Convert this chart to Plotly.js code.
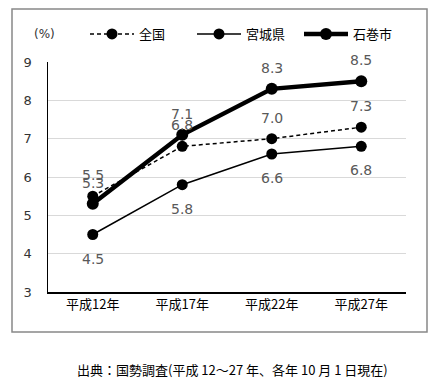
<!DOCTYPE html>
<html><head><meta charset="utf-8">
<script src="https://cdn.plot.ly/plotly-3.0.1.min.js"></script>
<style>body{margin:0;background:#fff}#c{width:434px;height:384px}</style>
</head><body><div id="c"></div>
<script>
const categories = ['平成12年','平成17年','平成22年','平成27年'];
const zenkoku = [5.5, 6.8, 7.0, 7.3];
const miyagi = [4.5, 5.8, 6.6, 6.8];
const ishinomaki = [5.3, 7.1, 8.3, 8.5];
const yTicks = [3,4,5,6,7,8,9];

const F = 'Verdana, "DejaVu Sans", "Noto Sans CJK JP", sans-serif';
const J = '"Noto Sans CJK JP", sans-serif';
const traces = [
  {name:'全国', x:categories, y:zenkoku, mode:'lines+markers',
   line:{color:'#000', width:1.5, dash:'4px,3px'}, marker:{color:'#000', size:11}},
  {name:'宮城県', x:categories, y:miyagi, mode:'lines+markers',
   line:{color:'#000', width:1.5}, marker:{color:'#000', size:11}},
  {name:'石巻市', x:categories, y:ishinomaki, mode:'lines+markers',
   line:{color:'#000', width:4.5}, marker:{color:'#000', size:12}}
];
const ann = [];
const addLabels = (vals, shift) => vals.forEach((v,i)=>ann.push({
  x:categories[i], y:v, text:v.toFixed(1), showarrow:false, yshift:shift,
  font:{family:F, size:14, color:'#595959'}}));
addLabels(zenkoku, 21);
addLabels(miyagi, -24);
addLabels(ishinomaki, 21);
ann.push({xref:'paper', yref:'paper', x:(44-48)/358, y:(292-34)/230, xanchor:'center', yanchor:'middle', text:'(%)',
  showarrow:false, font:{family:F, size:12, color:'#333'}});
ann.push({xref:'paper', yref:'paper', x:(232-48)/358, y:(292-369)/230, xanchor:'center', yanchor:'middle',
  text:'出典：国勢調査(平成 12～27 年、各年 10 月 1 日現在)',
  showarrow:false, font:{family:J, size:13, color:'#000'}});

const layout = {
  width:434, height:384, margin:{l:48, r:28, t:62, b:92, autoexpand:false},
  paper_bgcolor:'#fff', plot_bgcolor:'#fff', showlegend:true,
  legend:{orientation:'h', x:(85-48)/358, y:(292-34)/230, xanchor:'left', yanchor:'middle',
    itemwidth:44, entrywidth:48, traceorder:'normal',
    font:{family:J, size:13, color:'#000'}, bgcolor:'rgba(0,0,0,0)'},
  xaxis:{type:'category', range:[-0.5,3.5], showgrid:false, showline:true, linecolor:'#000', linewidth:1.5,
    ticks:'', tickfont:{family:J, size:13, color:'#000'}, fixedrange:true},
  yaxis:{range:[3,9], tickvals:yTicks, showgrid:true, gridcolor:'#d9d9d9', gridwidth:1,
    showline:true, linecolor:'#000', linewidth:1.5, ticks:'', ticklabelstandoff:12, zeroline:false,
    tickfont:{family:F, size:13, color:'#333'}, fixedrange:true},
  annotations:ann,
  shapes:[{type:'rect', xref:'paper', yref:'paper', x0:(12-48)/358, x1:(427-48)/358,
    y0:(292-332)/230, y1:(292-9)/230, line:{color:'#888', width:1.5}}]
};
Plotly.newPlot('c', traces, layout, {displayModeBar:false, staticPlot:true});
</script></body></html>
